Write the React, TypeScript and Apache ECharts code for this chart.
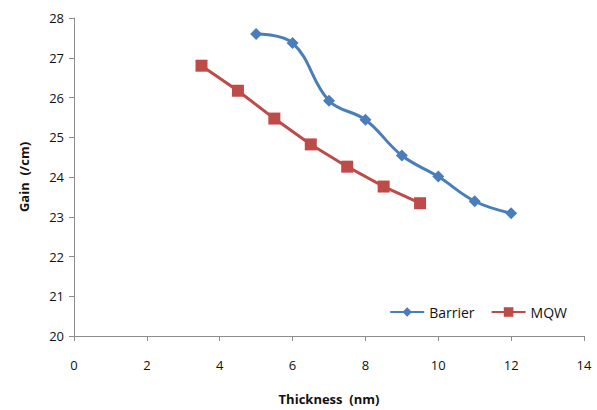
import React, { useEffect, useRef } from "react";
import * as echarts from "echarts";

const barrierX = [5, 6, 7, 8, 9, 10, 11, 12];
const barrierY = [27.6, 27.37, 25.92, 25.44, 24.54, 24.01, 23.39, 23.09];
const mqwX = [3.5, 4.5, 5.5, 6.5, 7.5, 8.5, 9.5];
const mqwY = [26.8, 26.17, 25.47, 24.82, 24.26, 23.76, 23.34];

const FONT = "'Open Sans', 'Liberation Sans', sans-serif";

export default function App() {
  const ref = useRef<HTMLDivElement>(null);
  useEffect(() => {
    const chart = echarts.init(ref.current!, null, { renderer: "svg" });
    chart.setOption({
      animation: false,
      backgroundColor: "#ffffff",
      textStyle: { fontFamily: FONT },
      grid: { left: 74, right: 13, top: 18, bottom: 73, containLabel: false },
      legend: {
        right: 25,
        top: 300,
        itemWidth: 34,
        itemHeight: 12,
        itemGap: 16,
        textStyle: { fontFamily: FONT, fontSize: 14, color: "#111" },
        data: ["Barrier", "MQW"],
      },
      xAxis: {
        type: "value",
        min: 0,
        max: 14,
        interval: 2,
        name: "Thickness  (nm)",
        nameLocation: "middle",
        nameGap: 56,
        nameTextStyle: { fontFamily: FONT, fontSize: 13, fontWeight: "bold", color: "#111" },
        axisLine: { show: true, lineStyle: { color: "#8c8c8c", width: 1 } },
        axisTick: { show: true, inside: false, length: 5, lineStyle: { color: "#8c8c8c" } },
        axisLabel: { fontFamily: FONT, fontSize: 13, color: "#111", margin: 22 },
        splitLine: { show: false },
      },
      yAxis: {
        type: "value",
        min: 20,
        max: 28,
        interval: 1,
        name: "Gain  (/cm)",
        nameLocation: "middle",
        nameGap: 44,
        nameRotate: 90,
        nameTextStyle: { fontFamily: FONT, fontSize: 13, fontWeight: "bold", color: "#111" },
        axisLine: { show: true, lineStyle: { color: "#8c8c8c", width: 1 } },
        axisTick: { show: true, inside: false, length: 5, lineStyle: { color: "#8c8c8c" } },
        axisLabel: { fontFamily: FONT, fontSize: 13, color: "#111", margin: 10 },
        splitLine: { show: false },
      },
      series: [
        {
          name: "Barrier",
          type: "line",
          smooth: 0.4,
          data: barrierX.map((x, i) => [x, barrierY[i]]),
          symbol: "diamond",
          symbolSize: 12,
          itemStyle: { color: "#4A7EBB" },
          lineStyle: { color: "#4A7EBB", width: 3 },
        },
        {
          name: "MQW",
          type: "line",
          smooth: false,
          data: mqwX.map((x, i) => [x, mqwY[i]]),
          symbol: "rect",
          symbolSize: 12,
          itemStyle: { color: "#BE4B48" },
          lineStyle: { color: "#BE4B48", width: 3 },
        },
      ],
    });
    return () => chart.dispose();
  }, []);
  return <div ref={ref} style={{ width: 597, height: 410, position: "absolute", left: 0, top: 0 }} />;
}
